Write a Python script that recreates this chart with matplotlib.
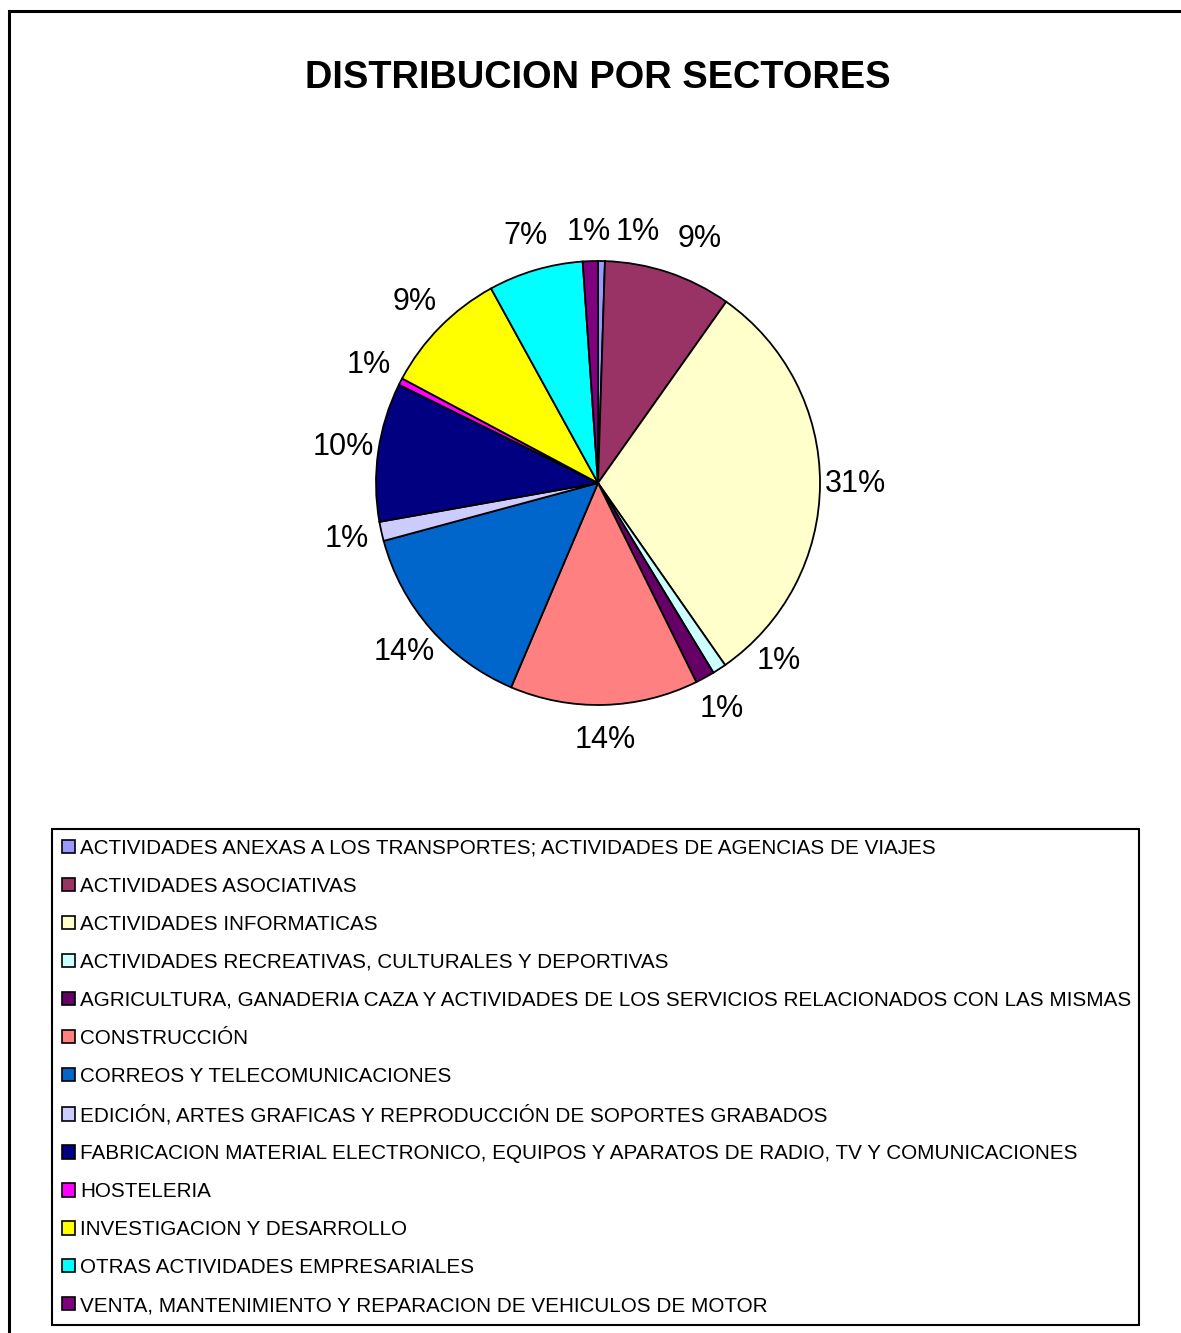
import matplotlib.pyplot as plt
from matplotlib.patches import Rectangle

plt.rcParams['font.family'] = ['Liberation Sans', 'DejaVu Sans']

sectores = [
    'ACTIVIDADES ANEXAS A LOS TRANSPORTES; ACTIVIDADES DE AGENCIAS DE VIAJES',
    'ACTIVIDADES ASOCIATIVAS',
    'ACTIVIDADES INFORMATICAS',
    'ACTIVIDADES RECREATIVAS, CULTURALES Y DEPORTIVAS',
    'AGRICULTURA, GANADERIA CAZA Y ACTIVIDADES DE LOS SERVICIOS RELACIONADOS CON LAS MISMAS',
    'CONSTRUCCIÓN',
    'CORREOS Y TELECOMUNICACIONES',
    'EDICIÓN, ARTES GRAFICAS Y REPRODUCCIÓN DE SOPORTES GRABADOS',
    'FABRICACION MATERIAL ELECTRONICO, EQUIPOS Y APARATOS DE RADIO, TV Y COMUNICACIONES',
    'HOSTELERIA',
    'INVESTIGACION Y DESARROLLO',
    'OTRAS ACTIVIDADES EMPRESARIALES',
    'VENTA, MANTENIMIENTO Y REPARACION DE VEHICULOS DE MOTOR',
]
porcentajes = [0.5, 9.3, 30.5, 1.0, 1.4, 13.7, 14.4, 1.4, 10.1, 0.5, 9.2, 6.9, 1.1]
colores = ['#9999FF', '#993366', '#FFFFCC', '#CCFFFF', '#660066', '#FF8080',
           '#0066CC', '#CCCCFF', '#000080', '#FF00FF', '#FFFF00', '#00FFFF', '#800080']

W, H = 1181, 1333
fig = plt.figure(figsize=(W / 100, H / 100), dpi=100)

# outer frame (clipped at right/bottom like the original)
fig.add_artist(Rectangle((9 / W, -0.02), 1.05, 1 - 11 / H + 0.02, transform=fig.transFigure,
                         fill=False, lw=2.2, ec='black'))

fig.text(598 / W, 1 - 78 / H, 'DISTRIBUCION POR SECTORES', ha='center', va='center',
         fontsize=27.4, fontweight='bold')

cx, cy, r = 598, 483, 222
ax = fig.add_axes([(cx - r) / W, 1 - (cy + r) / H, 2 * r / W, 2 * r / H])
wedges, texts, autotexts = ax.pie(
    porcentajes, colors=colores, startangle=90, counterclock=False,
    autopct=lambda p: '%d%%' % max(1, int(p + 0.5)), pctdistance=1.16,
    wedgeprops=dict(edgecolor='black', linewidth=1.3),
    textprops=dict(fontsize=22))
ax.set_xlim(-1, 1)
ax.set_ylim(-1, 1)
ax.set_aspect('equal')

# nudge crowded labels like Excel does
x, y = autotexts[0].get_position()
autotexts[0].set_position((x + 0.16, y - 0.03))
x, y = autotexts[1].get_position()
autotexts[1].set_position((x + 0.09, y))
x, y = autotexts[3].get_position()
autotexts[3].set_position((x + 0.18, y + 0.17))
x, y = autotexts[12].get_position()
autotexts[12].set_position((x, y - 0.03))

leg = fig.legend(wedges, sectores, loc='upper left',
                 bbox_to_anchor=(52 / W, 1 - 830 / H, (1139 - 52) / W, 0.001),
                 mode='expand', ncol=1, fontsize=14.85, frameon=True, fancybox=False,
                 framealpha=1, edgecolor='black', handlelength=0.6, handleheight=0.6,
                 handletextpad=0.25, labelspacing=0.92, borderpad=0.5, borderaxespad=0)
leg.get_frame().set_linewidth(1.5)
for h in leg.legend_handles:
    h.set_linewidth(1.2)

fig.savefig('out.png', dpi=100)
